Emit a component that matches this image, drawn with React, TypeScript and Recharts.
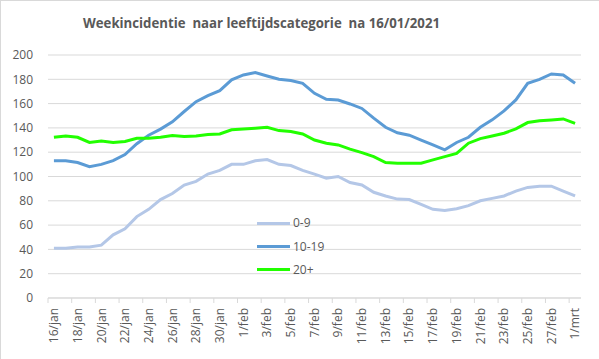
import React from 'react';
import { LineChart, Line, XAxis, YAxis, CartesianGrid, Legend } from 'recharts';

const dates = [
  '16/jan', '17/jan', '18/jan', '19/jan', '20/jan', '21/jan', '22/jan', '23/jan', '24/jan', '25/jan',
  '26/jan', '27/jan', '28/jan', '29/jan', '30/jan', '31/jan', '1/feb', '2/feb', '3/feb', '4/feb',
  '5/feb', '6/feb', '7/feb', '8/feb', '9/feb', '10/feb', '11/feb', '12/feb', '13/feb', '14/feb',
  '15/feb', '16/feb', '17/feb', '18/feb', '19/feb', '20/feb', '21/feb', '22/feb', '23/feb', '24/feb',
  '25/feb', '26/feb', '27/feb', '28/feb', '1/mrt',
];

const age0to9 = [
  41, 41, 42, 42, 43.5, 52, 57, 67, 73, 81,
  86, 93, 96, 102, 105, 110, 110, 113, 114, 110,
  109, 105, 102, 98.6, 100, 95, 93, 87, 84, 81.4,
  81, 77, 73, 72, 73.5, 76, 80, 82, 84, 88,
  91, 92, 92, 88, 84,
];

const age10to19 = [
  113, 113, 111.5, 108, 110, 113, 118, 127, 134, 139,
  145, 153.5, 161.6, 166.6, 170.7, 179.5, 183.6, 185.5, 182.7, 180,
  179, 176.7, 168.5, 163.6, 163, 159.7, 156, 148, 140.5, 136,
  134, 130, 126, 122, 128, 132.3, 140.5, 146.6, 154, 163,
  176.7, 180, 184.4, 183.6, 176.7,
];

const age20plus = [
  132.3, 133.4, 132.3, 128, 129.3, 128, 128.8, 131.5, 131.5, 132.3,
  133.7, 133, 133.4, 134.5, 135, 138.4, 139, 139.7, 140.5, 137.8,
  137, 135, 130, 127.4, 126, 122.5, 119.7, 116.4, 111.5, 111,
  111, 111, 113.7, 116.4, 119, 127.4, 131.2, 133.4, 135.6, 139.2,
  144.4, 145.8, 146.6, 147.4, 143.8,
];

const seriesNames = ['0-9', '10-19', '20+'];
const yTicks = [0, 20, 40, 60, 80, 100, 120, 140, 160, 180, 200];
const title = 'Weekincidentie  naar leeftijdscategorie  na 16/01/2021';

const data = dates.map((d, i) => ({
  date: d,
  s0: age0to9[i],
  s1: age10to19[i],
  s2: age20plus[i],
}));

const W = 599;
const H = 359;
const MARGIN = { top: 55, right: 18, left: 0, bottom: 0 };
const Y_W = 48;
const X_H = 61;
const PLOT_W = W - MARGIN.left - MARGIN.right - Y_W;
const STEP = PLOT_W / dates.length;
const FONT = '"Open Sans", sans-serif';
const TXT = '#595959';
const GRID = '#d9d9d9';
const COLORS = ['#b4c7e7', '#5b9bd5', '#22ff00'];

const XTick = (props: any) => {
  const { x, y, payload } = props;
  const tx = x - STEP / 2;
  return (
    <g>
      <line x1={tx} x2={tx} y1={y} y2={y + 5} stroke={GRID} strokeWidth={1} />
      <text
        transform={`translate(${x},${y + 10}) rotate(-90)`}
        textAnchor="end"
        dy="0.35em"
        fill={TXT}
        fontSize={12}
        fontFamily={FONT}
      >
        {payload.value}
      </text>
    </g>
  );
};

const LegendContent = (props: any) => {
  const items = props.payload || [];
  return (
    <div style={{ fontFamily: FONT, fontSize: 12, color: TXT }}>
      {items.map((it: any, i: number) => (
        <div key={i} style={{ display: 'flex', alignItems: 'center', height: 23.35 }}>
          <div style={{ width: 33, height: 3, background: it.color }} />
          <span style={{ marginLeft: 3, lineHeight: '14px' }}>{it.value}</span>
        </div>
      ))}
    </div>
  );
};

export default function App() {
  return (
    <div style={{ position: 'absolute', left: 0, top: 0, width: W, height: H, background: '#fff' }}>
      <LineChart width={W} height={H} data={data} margin={MARGIN}>
        <CartesianGrid vertical={false} stroke={GRID} />
        <XAxis
          dataKey="date"
          scale="point"
          interval={1}
          height={X_H}
          padding={{ left: STEP / 2, right: STEP / 2 }}
          axisLine={{ stroke: GRID }}
          tickLine={false}
          tickSize={0}
          tickMargin={0}
          tick={<XTick />}
        />
        <YAxis
          domain={[0, 200]}
          ticks={yTicks}
          width={Y_W}
          axisLine={false}
          tickLine={false}
          tickSize={0}
          tickMargin={15}
          tick={{ fill: TXT, fontSize: 12, fontFamily: FONT }}
        />
        <Legend
          layout="vertical"
          verticalAlign="middle"
          align="center"
          wrapperStyle={{ position: 'absolute', left: 257, top: 211.6, width: 90 }}
          content={<LegendContent />}
        />
        {['s0', 's1', 's2'].map((k, i) => (
          <Line
            key={k}
            type="linear"
            dataKey={k}
            name={seriesNames[i]}
            stroke={COLORS[i]}
            strokeWidth={3}
            dot={false}
            isAnimationActive={false}
          />
        ))}
      </LineChart>
      <svg
        width={W}
        height={H}
        style={{ position: 'absolute', left: 0, top: 0, pointerEvents: 'none' }}
      >
        <line x1={0} y1={0.5} x2={W} y2={0.5} stroke={GRID} />
        <line x1={0.5} y1={0} x2={0.5} y2={H} stroke={GRID} />
        <text
          x={261.5}
          y={28}
          textAnchor="middle"
          fill={TXT}
          fontSize={15}
          fontWeight="bold"
          fontFamily={FONT}
          textLength={357}
          lengthAdjust="spacingAndGlyphs"
          style={{ whiteSpace: 'pre' }}
        >
          {title}
        </text>
      </svg>
    </div>
  );
}
